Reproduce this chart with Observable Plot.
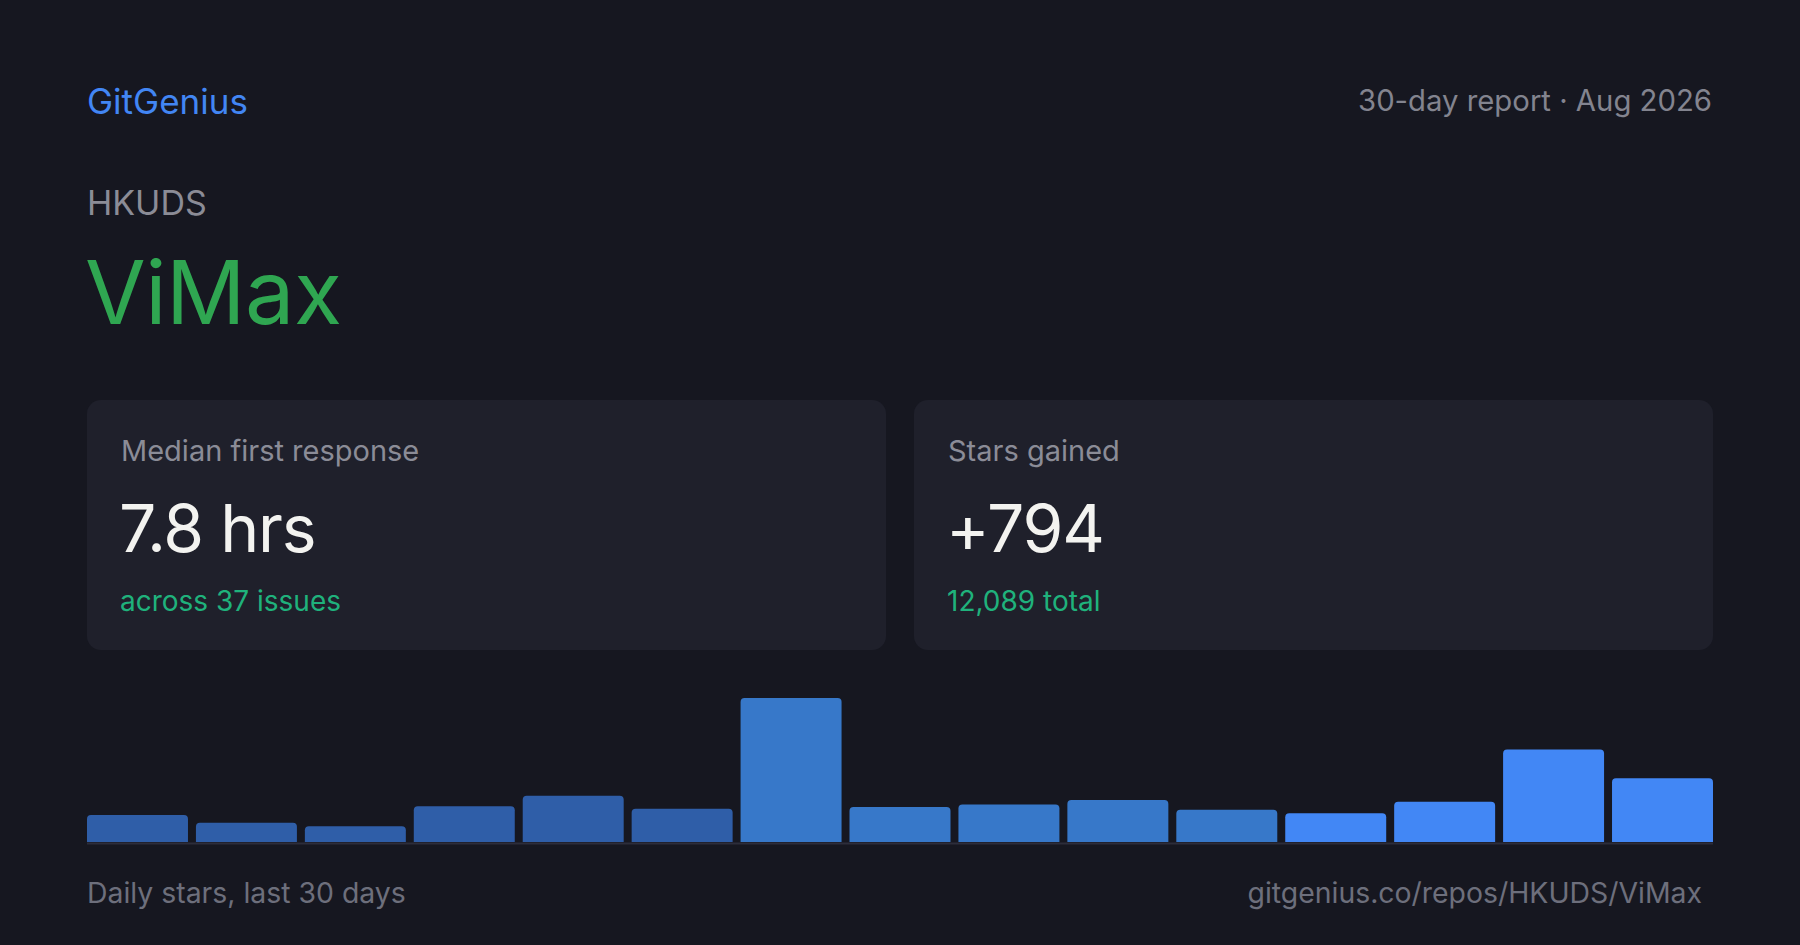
<!DOCTYPE html>
<html>
<head>
<meta charset="utf-8">
<script src="https://cdn.jsdelivr.net/npm/d3@7"></script>
<script src="https://cdn.jsdelivr.net/npm/@observablehq/plot@0.6"></script>
<style>
  html, body { margin: 0; padding: 0; }
  body { width: 1800px; height: 945px; background: #161720; font-family: Inter, "Noto Sans", sans-serif; position: relative; overflow: hidden; }
  .abs { position: absolute; white-space: nowrap; line-height: 1; }
  .brand { left: 87px; top: 84px; font-size: 35px; color: #4286f4; }
  .period { right: 88px; top: 86px; font-size: 29.3px; color: #83848f; }
  .owner { left: 87px; top: 186px; font-size: 34px; color: #8b8c96; }
  .repo { left: 85px; top: 248px; font-size: 88px; color: #2fa651; letter-spacing: -0.5px; }
  .card { position: absolute; top: 400px; width: 799px; height: 250px; background: #1f202b; border-radius: 14px; }
  .card .lbl { position: absolute; left: 34px; top: 36px; font-size: 29px; color: #8b8c97; line-height: 1; white-space: nowrap; }
  .card .val { position: absolute; left: 32px; top: 95px; font-size: 66px; color: #f3f3f0; line-height: 1; letter-spacing: -1.2px; white-space: nowrap; }
  .card .sub { position: absolute; left: 33px; top: 187px; font-size: 28px; color: #1fb27c; line-height: 1; white-space: nowrap; }
  .foot-l { left: 87px; top: 879px; font-size: 28.4px; color: #6d6f7c; }
  .foot-r { right: 98px; top: 879px; font-size: 28.4px; color: #6d6f7c; }
  #chart { position: absolute; left: 87px; top: 680px; }
</style>
</head>
<body>
<div class="abs brand" id="brand"></div>
<div class="abs period" id="period"></div>
<div class="abs owner" id="owner"></div>
<div class="abs repo" id="repo"></div>
<div class="card" style="left:87px"><div class="lbl" id="l1"></div><div class="val" id="v1"></div><div class="sub" id="s1"></div></div>
<div class="card" style="left:914px"><div class="lbl" id="l2"></div><div class="val" id="v2"></div><div class="sub" id="s2"></div></div>
<div id="chart"></div>
<div class="abs foot-l" id="footL"></div>
<div class="abs foot-r" id="footR"></div>
<script>
// ---- data ----
const brand = "GitGenius";
const period = "30-day report · Aug 2026";
const owner = "HKUDS";
const repo = "ViMax";
const cardLabels = ["Median first response", "Stars gained"];
const cardValues = ["7.8 hrs", "+794"];
const cardSubs = ["across 37 issues", "12,089 total"];
const footLeft = "Daily stars, last 30 days";
const footRight = "gitgenius.co/repos/HKUDS/ViMax";
// daily stars, binned in pairs of days (15 bins over 30 days)
const bins = d3.range(1, 16);
const stars = [31, 22, 18, 41, 53, 38, 165, 40, 43, 48, 37, 33, 46, 106, 73];

// ---- text ----
document.getElementById("brand").textContent = brand;
document.getElementById("period").textContent = period;
document.getElementById("owner").textContent = owner;
document.getElementById("repo").textContent = repo;
document.getElementById("l1").textContent = cardLabels[0];
document.getElementById("l2").textContent = cardLabels[1];
document.getElementById("v1").textContent = cardValues[0];
document.getElementById("v2").textContent = cardValues[1];
document.getElementById("s1").textContent = cardSubs[0];
document.getElementById("s2").textContent = cardSubs[1];
document.getElementById("footL").textContent = footLeft;
document.getElementById("footR").textContent = footRight;

// ---- chart ----
const data = bins.map((b, i) => ({bin: b, stars: stars[i]}));
const toneOf = (d, i) => i < 6 ? "#2f5ea8" : i < 11 ? "#3778c9" : "#4287f5";
const chart = Plot.plot({
  width: 1626,
  height: 166,
  marginTop: 18,
  marginBottom: 4,
  marginLeft: 0,
  marginRight: 0,
  style: {background: "transparent"},
  x: {type: "band", domain: bins, paddingInner: 0.073, paddingOuter: 0, round: false, axis: null},
  y: {domain: [0, 165], axis: null},
  marks: [
    Plot.barY(data, {x: "bin", y: "stars", fill: toneOf, ry1: 4, rx1y1: 4, rx2y1: 4}),
    Plot.ruleY([0], {stroke: "#2c2d3a", strokeWidth: 2, dy: 1})
  ]
});
document.getElementById("chart").appendChild(chart);
</script>
</body>
</html>
